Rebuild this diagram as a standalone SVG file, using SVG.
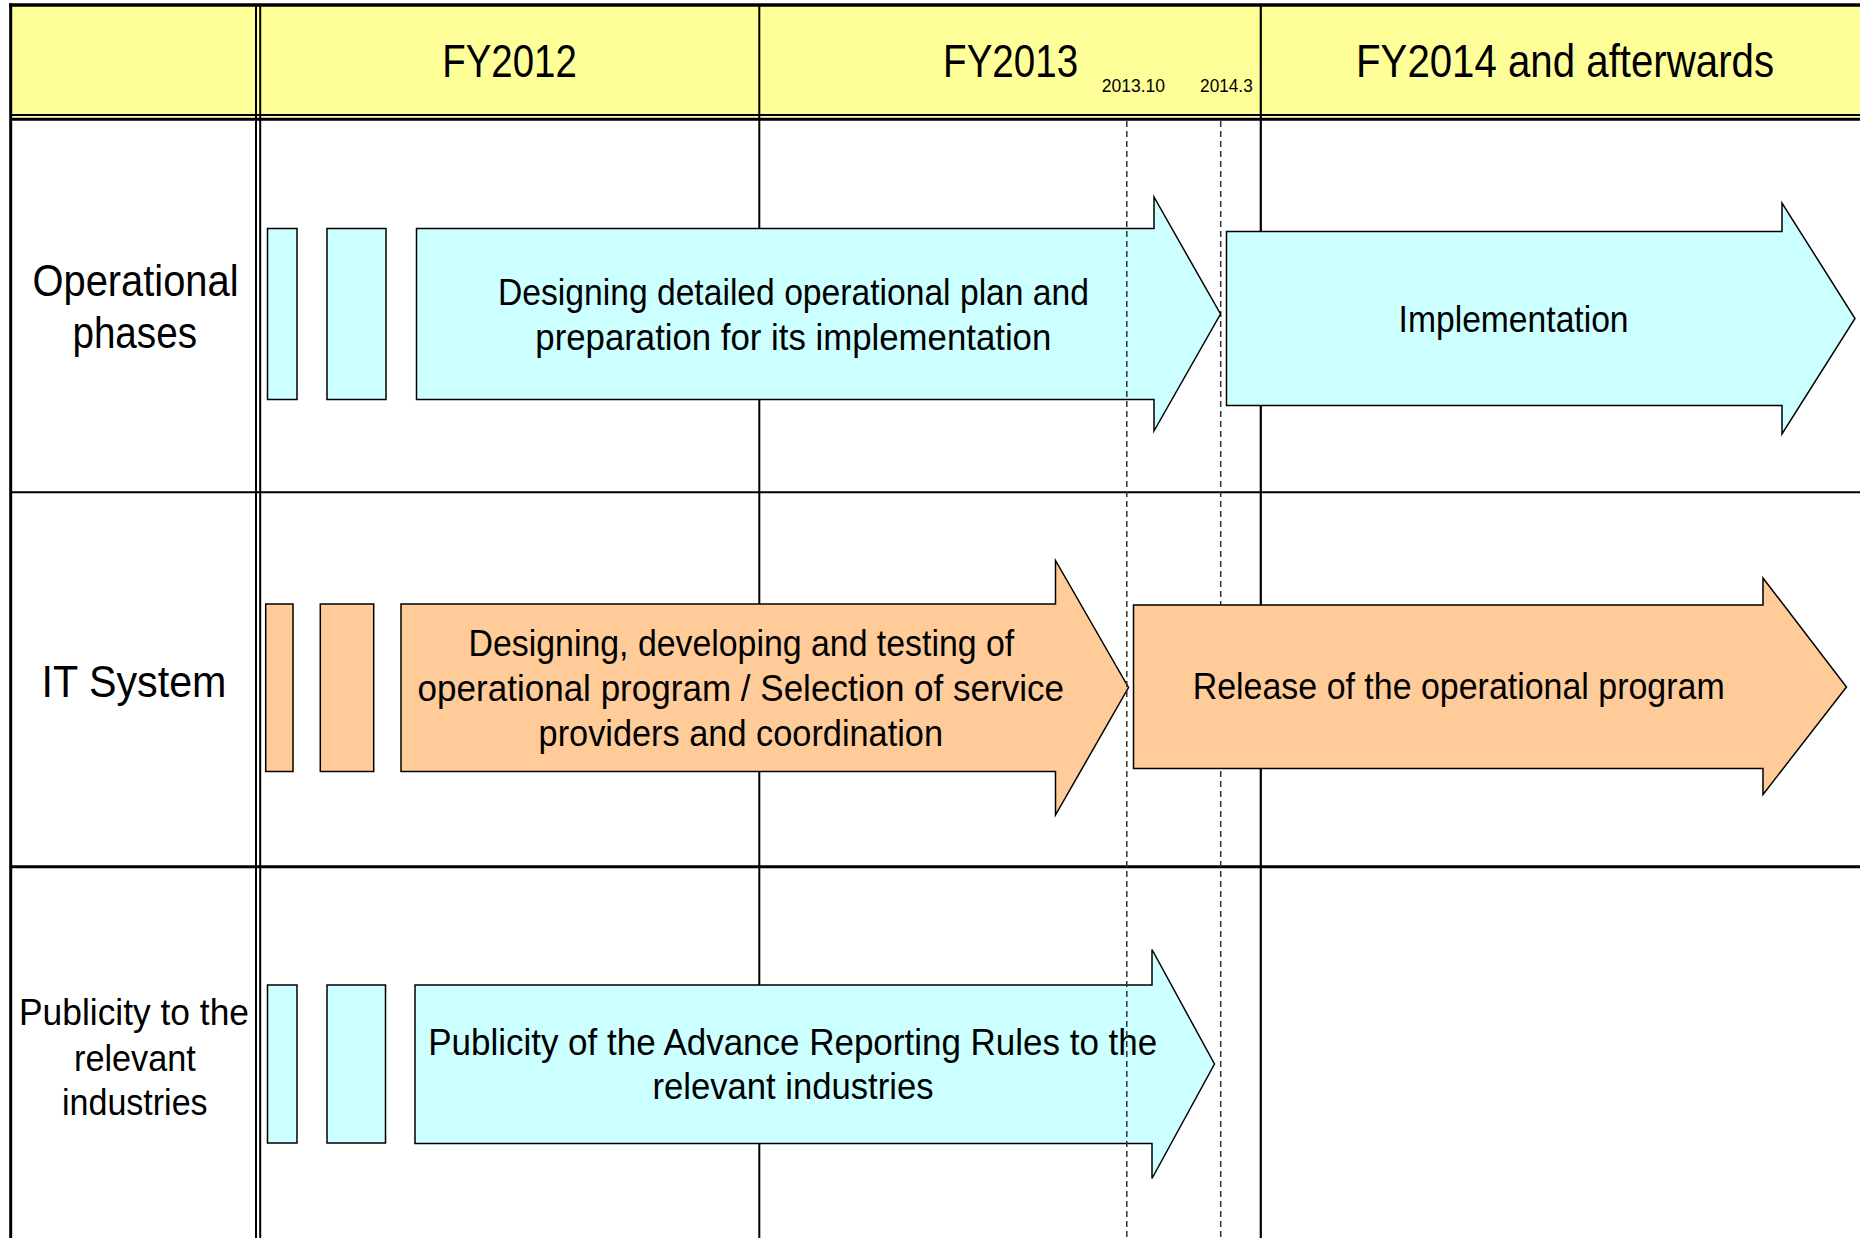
<svg xmlns="http://www.w3.org/2000/svg" width="1860" height="1238" viewBox="0 0 1860 1238">
<defs>
<style>
text{font-family:"Liberation Sans",Arial,sans-serif;fill:#000;text-anchor:middle}
.hd{font-size:46px}
.rl{font-size:45px}
.rs{font-size:36px}
.at{font-size:36px}
.dt{font-size:19px}
.grid{stroke:#000;fill:none}
.cyan{fill:#CCFFFF;stroke:#000;stroke-width:1.5}
.orange{fill:#FFCC99;stroke:#000;stroke-width:1.5}
.dash{stroke:#333;stroke-width:1.5;stroke-dasharray:6 4;fill:none}
</style>
</defs>
<rect x="0" y="0" width="1860" height="1238" fill="#fff"/>
<g id="header">
<rect x="11" y="5" width="1849" height="112" fill="#FFFF99"/>
</g>
<g id="grid">
<line class="grid" x1="9" y1="5" x2="1860" y2="5" stroke-width="3.4"/>
<line class="grid" x1="10.7" y1="3.5" x2="10.7" y2="1238" stroke-width="3"/>
<line class="grid" x1="10" y1="115" x2="1860" y2="115" stroke-width="1.8"/>
<line class="grid" x1="10" y1="119.2" x2="1860" y2="119.2" stroke-width="3"/>
<line class="grid" x1="256" y1="5" x2="256" y2="1238" stroke-width="2"/>
<line class="grid" x1="260.2" y1="5" x2="260.2" y2="1238" stroke-width="2"/>
<line class="grid" x1="759.3" y1="5" x2="759.3" y2="1238" stroke-width="2"/>
<line class="grid" x1="1260.8" y1="5" x2="1260.8" y2="1238" stroke-width="2.2"/>
<line class="grid" x1="10" y1="492.3" x2="1860" y2="492.3" stroke-width="2"/>
<line class="grid" x1="10" y1="866.8" x2="1860" y2="866.8" stroke-width="3"/>
<line class="dash" x1="1220.7" y1="121" x2="1220.7" y2="1238"/>
</g>
<g id="header-labels">
<text class="hd" x="509.5" y="77" textLength="134.6" lengthAdjust="spacingAndGlyphs">FY2012</text>
<text class="hd" x="1010.6" y="77" textLength="135" lengthAdjust="spacingAndGlyphs">FY2013</text>
<text class="hd" x="1565" y="77" textLength="418" lengthAdjust="spacingAndGlyphs">FY2014 and afterwards</text>
<text class="dt" x="1133.4" y="92.3" textLength="63.3" lengthAdjust="spacingAndGlyphs">2013.10</text>
<text class="dt" x="1226.4" y="92.3" textLength="52.7" lengthAdjust="spacingAndGlyphs">2014.3</text>
</g>
<g id="row-labels">
<text class="rl" x="135.5" y="296" textLength="206" lengthAdjust="spacingAndGlyphs">Operational</text>
<text class="rl" x="134.7" y="348" textLength="124.6" lengthAdjust="spacingAndGlyphs">phases</text>
<text class="rl" x="134" y="697" textLength="185" lengthAdjust="spacingAndGlyphs">IT System</text>
<text class="rs" x="134" y="1025" textLength="230" lengthAdjust="spacingAndGlyphs">Publicity to the</text>
<text class="rs" x="134.9" y="1071" textLength="121.7" lengthAdjust="spacingAndGlyphs">relevant</text>
<text class="rs" x="134.8" y="1115" textLength="145.6" lengthAdjust="spacingAndGlyphs">industries</text>
</g>
<g id="op-bars">
<rect class="cyan" x="267.5" y="228.5" width="29.5" height="171"/>
<rect class="cyan" x="327" y="228.5" width="59" height="171"/>
</g>
<g id="op-design">
<path class="cyan" d="M416.5,228.5 H1154 V197 L1220.5,314 L1154,431 V399.5 H416.5 Z"/>
<text class="at" x="793.5" y="304.5" textLength="591" lengthAdjust="spacingAndGlyphs">Designing detailed operational plan and</text>
<text class="at" x="793.3" y="350" textLength="516" lengthAdjust="spacingAndGlyphs">preparation for its implementation</text>
</g>
<g id="op-implementation">
<path class="cyan" d="M1226.5,231.5 H1782 V203 L1855,318.5 L1782,434 V405.5 H1226.5 Z"/>
<text class="at" x="1513.6" y="332" textLength="230" lengthAdjust="spacingAndGlyphs">Implementation</text>
</g>
<g id="it-bars">
<rect class="orange" x="265.7" y="604" width="27.3" height="167.5"/>
<rect class="orange" x="320.3" y="604" width="53.4" height="167.5"/>
</g>
<g id="it-develop">
<path class="orange" d="M401,604 H1055.5 V560.5 L1128.5,687.5 L1055.5,815 V771.5 H401 Z"/>
<text class="at" x="741.4" y="656" textLength="545.6" lengthAdjust="spacingAndGlyphs">Designing, developing and testing of</text>
<text class="at" x="740.8" y="701" textLength="646.5" lengthAdjust="spacingAndGlyphs">operational program / Selection of service</text>
<text class="at" x="740.8" y="746" textLength="404.5" lengthAdjust="spacingAndGlyphs">providers and coordination</text>
</g>
<g id="it-release">
<path class="orange" d="M1133.5,605 H1763 V578 L1846.5,687 L1763,794.5 V768.5 H1133.5 Z"/>
<text class="at" x="1458.7" y="699" textLength="532" lengthAdjust="spacingAndGlyphs">Release of the operational program</text>
</g>
<g id="pub-bars">
<rect class="cyan" x="267.5" y="985" width="29.5" height="158"/>
<rect class="cyan" x="327" y="985" width="58.5" height="158"/>
</g>
<g id="pub-publicity">
<path class="cyan" d="M415,985 H1152 V949.5 L1214.5,1064 L1152,1178.5 V1143.5 H415 Z"/>
<text class="at" x="792.7" y="1055" textLength="729" lengthAdjust="spacingAndGlyphs">Publicity of the Advance Reporting Rules to the</text>
<text class="at" x="793" y="1098.5" textLength="281" lengthAdjust="spacingAndGlyphs">relevant industries</text>
</g>
<g id="connectors">
<line class="dash" x1="1126.8" y1="121" x2="1126.8" y2="1238"/>
</g>
</svg>
